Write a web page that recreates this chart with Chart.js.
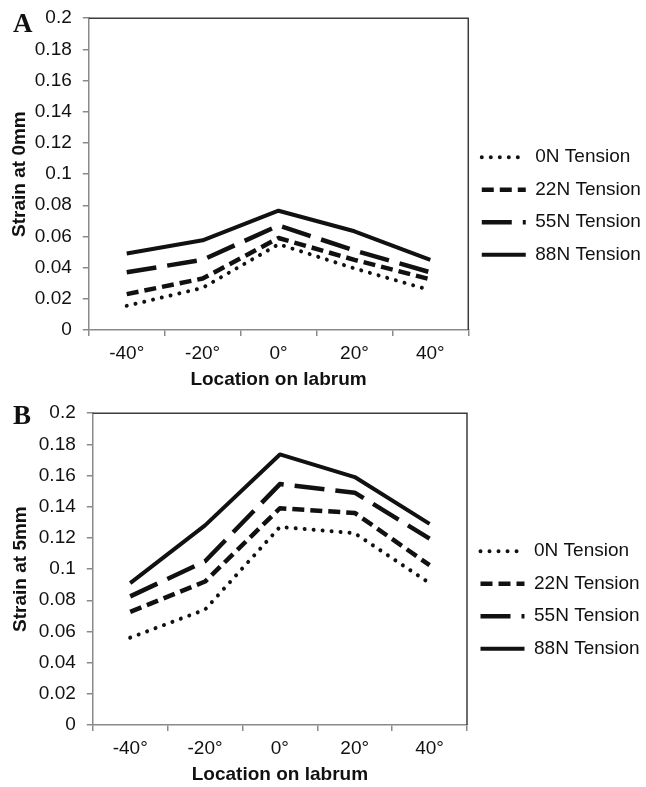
<!DOCTYPE html>
<html lang="en">
<head>
<meta charset="UTF-8">
<title>Labrum strain</title>
<script src="https://cdn.jsdelivr.net/npm/chart.js"></script>
<style>
  body { margin: 0; background: #fff; }
  #wrap { position: relative; width: 646px; height: 787px; }
  canvas { position: absolute; left: 0; }
  #chartA { top: 0; }
  #chartB { top: 395px; }
</style>
</head>
<body>
<div id="wrap">
  <canvas id="chartA" width="646" height="394"></canvas>
  <canvas id="chartB" width="646" height="392"></canvas>
</div>
<script>
// categories / tick labels
const locations = ['-40°', '-20°', '0°', '20°', '40°'];
const tensions = ['0N Tension', '22N Tension', '55N Tension', '88N Tension'];
const yTickLabels = ['0', '0.02', '0.04', '0.06', '0.08', '0.1', '0.12', '0.14', '0.16', '0.18', '0.2'];

// panel A - strain at 0mm
const strain0mm_0N  = [0.0155, 0.027, 0.055, 0.0395, 0.0255];
const strain0mm_22N = [0.023, 0.033, 0.059, 0.045, 0.0325];
const strain0mm_55N = [0.037, 0.045, 0.067, 0.051, 0.037];
const strain0mm_88N = [0.049, 0.0575, 0.0765, 0.0633, 0.045];

// panel B - strain at 5mm
const strain5mm_0N  = [0.056, 0.074, 0.127, 0.123, 0.091];
const strain5mm_22N = [0.0725, 0.092, 0.139, 0.136, 0.1025];
const strain5mm_55N = [0.0825, 0.105, 0.1545, 0.149, 0.1195];
const strain5mm_88N = [0.091, 0.128, 0.1735, 0.159, 0.129];

// line looks: dotted, short dash, long dash, solid
const lineStyles = [
  { borderWidth: 4, borderDash: [0.01, 9], borderCapStyle: 'round' },
  { borderWidth: 4.5, borderDash: [12, 6], borderCapStyle: 'butt' },
  { borderWidth: 4.5, borderDash: [30, 11], borderCapStyle: 'butt' },
  { borderWidth: 4, borderDash: [], borderCapStyle: 'butt' }
];

const axisGray = '#8a8a8a';
const textCol = '#111';
const fontFam = '"Liberation Sans", Arial, sans-serif';

// top/right border of the plot box plus the panel letter
const framePlugin = {
  id: 'frame',
  afterDraw(chart, args, opts) {
    const { ctx, chartArea: a } = chart;
    ctx.save();
    ctx.strokeStyle = '#3c3c3c';
    ctx.lineWidth = 1.5;
    ctx.beginPath();
    ctx.moveTo(a.left, a.top);
    ctx.lineTo(a.right, a.top);
    ctx.lineTo(a.right, a.bottom);
    ctx.stroke();
    ctx.fillStyle = textCol;
    ctx.font = 'bold 27px "Liberation Serif", "Times New Roman", serif';
    ctx.textBaseline = 'alphabetic';
    ctx.fillText(opts.letter, 13, opts.letterY);
    ctx.restore();
  }
};

function makeChart(id, letter, letterY, yTitle, series, lay) {
  const datasets = series.map((vals, i) => ({
    label: tensions[i],
    data: vals,
    borderColor: '#111',
    backgroundColor: '#111',
    borderWidth: lineStyles[i].borderWidth,
    borderDash: lineStyles[i].borderDash,
    borderCapStyle: lineStyles[i].borderCapStyle,
    borderJoinStyle: 'round',
    pointRadius: 0,
    tension: 0,
    fill: false
  }));

  return new Chart(document.getElementById(id), {
    type: 'line',
    data: { labels: locations, datasets },
    plugins: [framePlugin],
    options: {
      responsive: false,
      animation: false,
      devicePixelRatio: 1,
      // negative left padding widens the room chart.js allows the side legend
      layout: { padding: { top: 18, left: lay.padLeft, right: lay.padRight, bottom: 0 } },
      plugins: {
        frame: { letter, letterY },
        tooltip: { enabled: false },
        legend: {
          position: 'right',
          labels: {
            usePointStyle: true,
            pointStyle: 'line',
            pointStyleWidth: 44,
            padding: 13.5,
            color: textCol,
            font: { family: fontFam, size: 19 },
            generateLabels(chart) {
              // trailing em space reserves room for the longer line sample
              return chart.data.datasets.map((ds, i) => ({
                text: ds.label + '\u2003',
                fillStyle: 'rgba(0,0,0,0)',
                strokeStyle: ds.borderColor,
                lineWidth: ds.borderWidth,
                lineDash: ds.borderDash,
                lineCap: ds.borderCapStyle,
                pointStyle: 'line',
                fontColor: textCol,
                hidden: false,
                datasetIndex: i
              }));
            }
          }
        }
      },
      scales: {
        x: {
          offset: true,
          grid: { offset: true, drawOnChartArea: false, drawTicks: true, tickLength: 6, color: axisGray, lineWidth: 1.5 },
          border: { color: axisGray, width: 1.5 },
          ticks: { color: textCol, padding: 6.1, font: { family: fontFam, size: 19 }, maxRotation: 0 },
          title: {
            display: true, text: 'Location on labrum', color: textCol,
            font: { family: fontFam, size: 19, weight: 'bold', lineHeight: 1 },
            padding: { top: lay.xTitleTop, bottom: lay.xTitleBottom }
          }
        },
        y: {
          min: 0, max: 0.2,
          grid: { drawOnChartArea: false, drawTicks: true, tickLength: 6, color: axisGray, lineWidth: 1.5 },
          border: { color: axisGray, width: 1.5 },
          ticks: {
            stepSize: 0.02, padding: 11, color: textCol,
            font: { family: fontFam, size: 19, lineHeight: 0.75 },
            callback: (v, i) => yTickLabels[i]
          },
          title: {
            display: true, text: yTitle, color: textCol,
            font: { family: fontFam, size: 19, weight: 'bold', lineHeight: 1 },
            padding: { top: lay.yTitleTop, bottom: lay.yTitleBottom }
          }
        }
      }
    }
  });
}

makeChart('chartA', 'A', 32, 'Strain at 0mm',
  [strain0mm_0N, strain0mm_22N, strain0mm_55N, strain0mm_88N],
  { padLeft: -70, padRight: -1.7, yTitleTop: 80, yTitleBottom: -5.2, xTitleTop: -1, xTitleBottom: 5 });

makeChart('chartB', 'B', 29, 'Strain at 5mm',
  [strain5mm_0N, strain5mm_22N, strain5mm_55N, strain5mm_88N],
  { padLeft: -70, padRight: 0, yTitleTop: 81, yTitleBottom: -2.2, xTitleTop: -0.5, xTitleBottom: 2.5 });
</script>
</body>
</html>
